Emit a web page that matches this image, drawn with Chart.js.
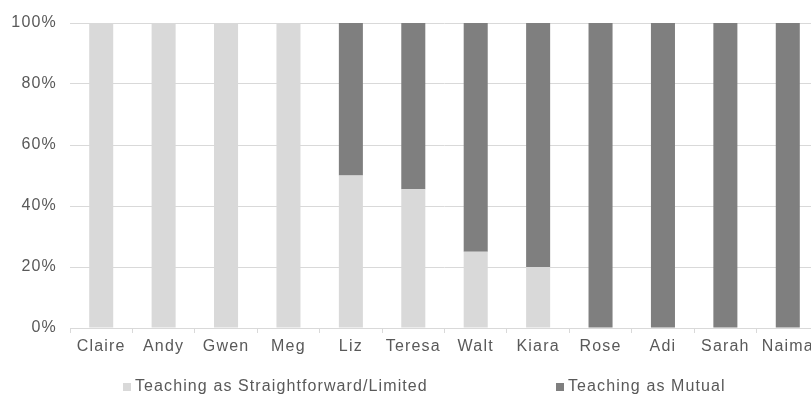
<!DOCTYPE html>
<html>
<head>
<meta charset="utf-8">
<script src="https://cdn.jsdelivr.net/npm/chart.js@4.4.1/dist/chart.umd.min.js"></script>
<style>
  html, body { margin: 0; padding: 0; background: #fff; overflow: hidden; }
  #wrap { position: relative; width: 830px; height: 394px; }
  #legend {
    position: absolute; left: 0; top: 377px; width: 811px; height: 18px;
    font-family: "Liberation Sans", Arial, sans-serif; font-size: 16px; line-height: 18px;
    color: #595959; letter-spacing: 1.1px;
  }
  #legend span.item { position: absolute; top: 0; white-space: nowrap; }
  #legend i { display: inline-block; width: 8px; height: 8px; margin-right: 4px; }
</style>
</head>
<body>
<div id="wrap">
  <canvas id="teachingChart" width="830" height="394"></canvas>
  <div id="legend"></div>
</div>
<script>
const participants = ["Claire", "Andy", "Gwen", "Meg", "Liz", "Teresa", "Walt", "Kiara", "Rose", "Adi", "Sarah", "Naima"];
const straightforward = [100, 100, 100, 100, 50, 45.5, 25, 20, 0, 0, 0, 0];
const mutual = [0, 0, 0, 0, 50, 54.5, 75, 80, 100, 100, 100, 100];
const seriesNames = ["Teaching as Straightforward/Limited", "Teaching as Mutual"];
const seriesColors = ["#d9d9d9", "#7f7f7f"];
const legendLeft = [123, 556];

const textColor = "#595959";
const gridColor = "#d9d9d9";

// wider tracking on the axis text (canvas state is reset on resize, so set it each pass)
const spacedText = {
  id: "spacedText",
  beforeUpdate(chart) { chart.ctx.letterSpacing = "1.2px"; },
  beforeDraw(chart) { chart.ctx.letterSpacing = "1.2px"; }
};

const chart = new Chart(document.getElementById("teachingChart"), {
  type: "bar",
  data: {
    labels: participants,
    datasets: [
      { label: seriesNames[0], data: straightforward, backgroundColor: seriesColors[0] },
      { label: seriesNames[1], data: mutual, backgroundColor: seriesColors[1] }
    ]
  },
  plugins: [spacedText],
  options: {
    responsive: false,
    animation: false,
    layout: { padding: { top: 23, right: 11, left: 0, bottom: 0 } },
    datasets: { bar: { categoryPercentage: 1, barPercentage: 0.385 } },
    plugins: { legend: { display: false }, tooltip: { enabled: false } },
    scales: {
      x: {
        stacked: true,
        border: { display: false },
        grid: { drawOnChartArea: false, drawTicks: true, tickLength: 5, color: gridColor },
        ticks: { color: textColor, padding: 4, maxRotation: 0, autoSkip: false,
                 font: { family: "Liberation Sans", size: 16 } },
        afterFit(s) { s.height = 66; }
      },
      y: {
        stacked: true,
        min: 0, max: 100,
        border: { display: false },
        grid: { color: gridColor, drawTicks: false },
        ticks: { stepSize: 20, color: textColor, padding: 13,
                 font: { family: "Liberation Sans", size: 16 },
                 callback: v => v + "%" },
        afterFit(s) { s.width = 70; }
      }
    }
  }
});

// legend built from the datasets
const legend = document.getElementById("legend");
chart.data.datasets.forEach((ds, i) => {
  const item = document.createElement("span");
  item.className = "item";
  item.style.left = legendLeft[i] + "px";
  item.innerHTML = '<i style="background:' + ds.backgroundColor + '"></i>' + ds.label;
  legend.appendChild(item);
});
</script>
</body>
</html>
